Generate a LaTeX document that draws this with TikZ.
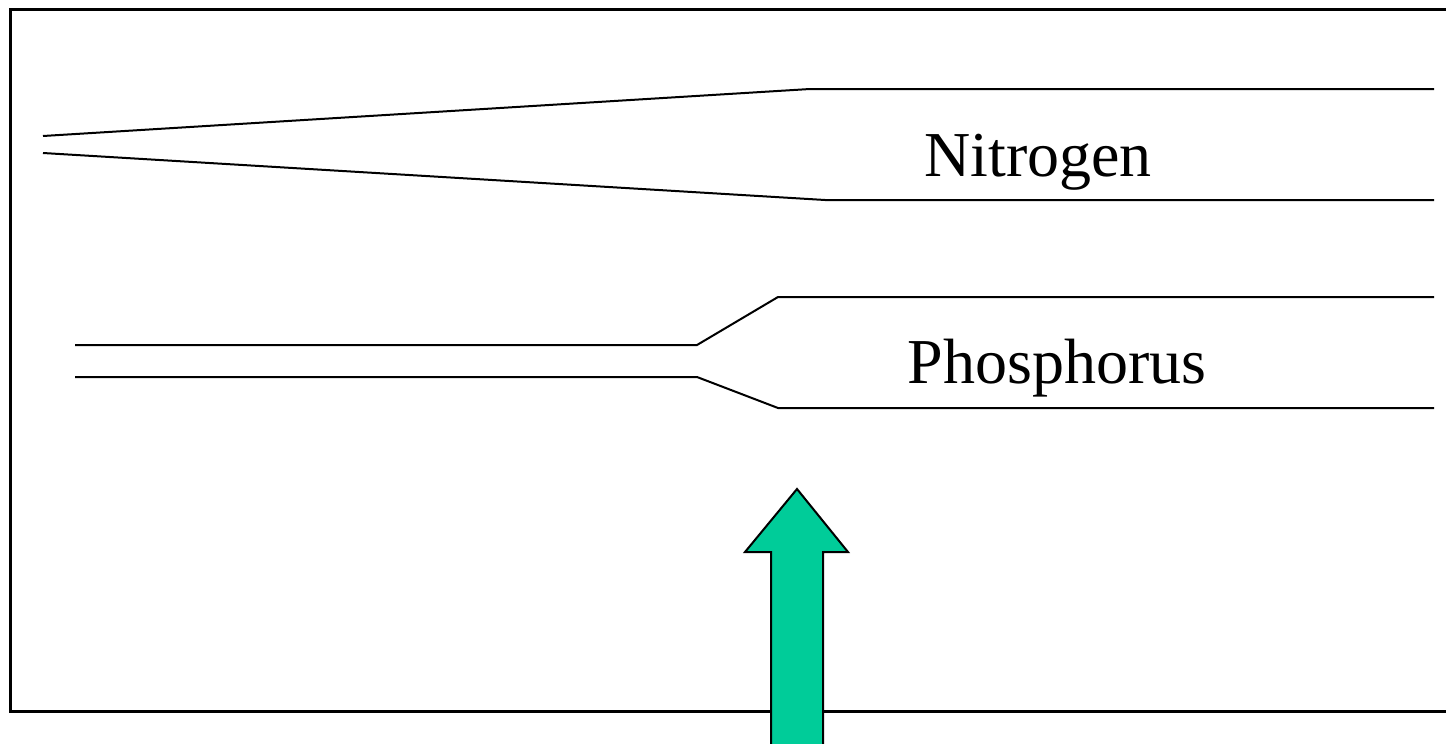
\documentclass[tikz,border=0pt]{standalone}
\usepackage{fontspec}
\setmainfont{Liberation Serif}
\definecolor{arrowgreen}{HTML}{00CC99}
\tikzset{
  frameline/.style={line width=3pt, line cap=rect},
  tube/.style={line width=2pt, line join=miter},
  label/.style={font=\fontsize{64}{76}\selectfont, anchor=base, inner sep=0pt},
  bigarrow/.style={fill=arrowgreen, draw=black, line width=2pt, line join=miter}
}
\begin{document}
\begin{tikzpicture}[x=1pt,y=-1pt]
\useasboundingbox (0,0) rectangle (1446,744);
% frame (cut off at the right edge)
\draw[frameline] (1450,9) -- (10,9) -- (10,711) -- (1450,711);
% Nitrogen channel
\draw[tube] (43,136) -- (810,89) -- (1434,89);
\draw[tube] (43,153) -- (825,200) -- (1434,200);
\node[label] (nitrogen) at (1038,176) {Nitrogen};
% Phosphorus channel
\draw[tube] (75,345) -- (697,345) -- (778,297) -- (1434,297);
\draw[tube] (75,377) -- (697,377) -- (778,408) -- (1434,408);
\node[label] (phosphorus) at (1057,383) {Phosphorus};
% green arrow
\draw[bigarrow] (771,760) -- (771,552) -- (745,552) -- (797,489) -- (848,552) -- (823,552) -- (823,760);
\end{tikzpicture}
\end{document}
